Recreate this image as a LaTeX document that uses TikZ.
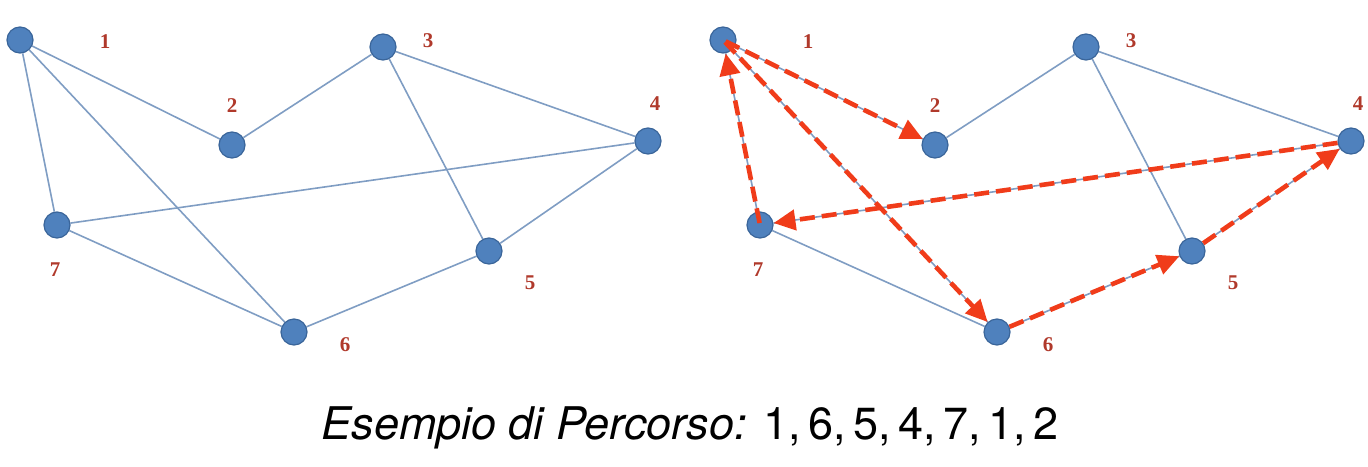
\documentclass[tikz,border=0pt]{standalone}
\usepackage{fontspec}
\setmainfont{Liberation Serif}
\newfontfamily\capfont{TeX Gyre Heros}
\usetikzlibrary{arrows.meta,backgrounds}
\definecolor{nodefill}{HTML}{4F81BD}
\definecolor{nodeline}{HTML}{3A659A}
\definecolor{edgecol}{HTML}{7F9DC3}
\definecolor{pathred}{HTML}{F03C1A}
\definecolor{labred}{HTML}{B0392B}
\tikzset{
  vtx/.style={circle, fill=nodefill, draw=nodeline, line width=1.2pt, minimum size=26pt, inner sep=0pt},
  lab/.style={text=labred, font=\fontsize{21}{21}\selectfont\bfseries, inner sep=0pt},
  edge/.style={draw=edgecol, line width=1.6pt},
  walk/.style={draw=pathred, line width=4.6pt, dash pattern=on 15pt off 7pt, -{Triangle[length=22pt,width=20pt]}},
  capt/.style={font=\capfont\fontsize{45}{45}\selectfont, inner sep=0pt, anchor=base}
}
\begin{document}
\begin{tikzpicture}[x=1pt,y=-1pt]
\useasboundingbox (0,0) rectangle (1368,466);
% nodes and labels of both graphs
\foreach \g/\dx in {a/0,b/703}{
  \begin{scope}[xshift=\dx pt]
  \node[vtx] (\g1) at (20,40) {};
  \node[vtx] (\g2) at (232,145) {};
  \node[vtx] (\g3) at (383,47) {};
  \node[vtx] (\g4) at (648,141) {};
  \node[vtx] (\g5) at (489,251) {};
  \node[vtx] (\g6) at (294,332) {};
  \node[vtx] (\g7) at (57,225) {};
  \node[lab] (\g l1) at (105,42) {1};
  \node[lab] (\g l2) at (232,106) {2};
  \node[lab] (\g l3) at (428,41) {3};
  \node[lab] (\g l4) at (655,104) {4};
  \node[lab] (\g l5) at (530,283) {5};
  \node[lab] (\g l6) at (345,345) {6};
  \node[lab] (\g l7) at (55,270) {7};
  \end{scope}
}
% edges behind the nodes
\begin{scope}[on background layer]
\foreach \g in {a,b}{
  \draw[edge] (\g1) -- (\g2);
  \draw[edge] (\g1) -- (\g7);
  \draw[edge] (\g1) -- (\g6);
  \draw[edge] (\g2) -- (\g3);
  \draw[edge] (\g3) -- (\g4);
  \draw[edge] (\g3) -- (\g5);
  \draw[edge] (\g4) -- (\g7);
  \draw[edge] (\g4) -- (\g5);
  \draw[edge] (\g5) -- (\g6);
  \draw[edge] (\g6) -- (\g7);
}
\end{scope}
% walk 1,6,5,4,7,1,2
\draw[walk, shorten <=3pt] (b1.center) -- (b6);
\draw[walk] (b6) -- (b5);
\draw[walk] (b5) -- (b4);
\draw[walk] (b4) -- (b7);
\draw[walk, shorten <=2pt] (b7.center) -- (b1);
\draw[walk, shorten <=3pt] (b1.center) -- (b2);
% caption
\node[capt] (cap) at (690,439) {\itshape Esempio di Percorso:\upshape{} 1,\,6,\,5,\,4,\,7,\,1,\,2};
\end{tikzpicture}
\end{document}
